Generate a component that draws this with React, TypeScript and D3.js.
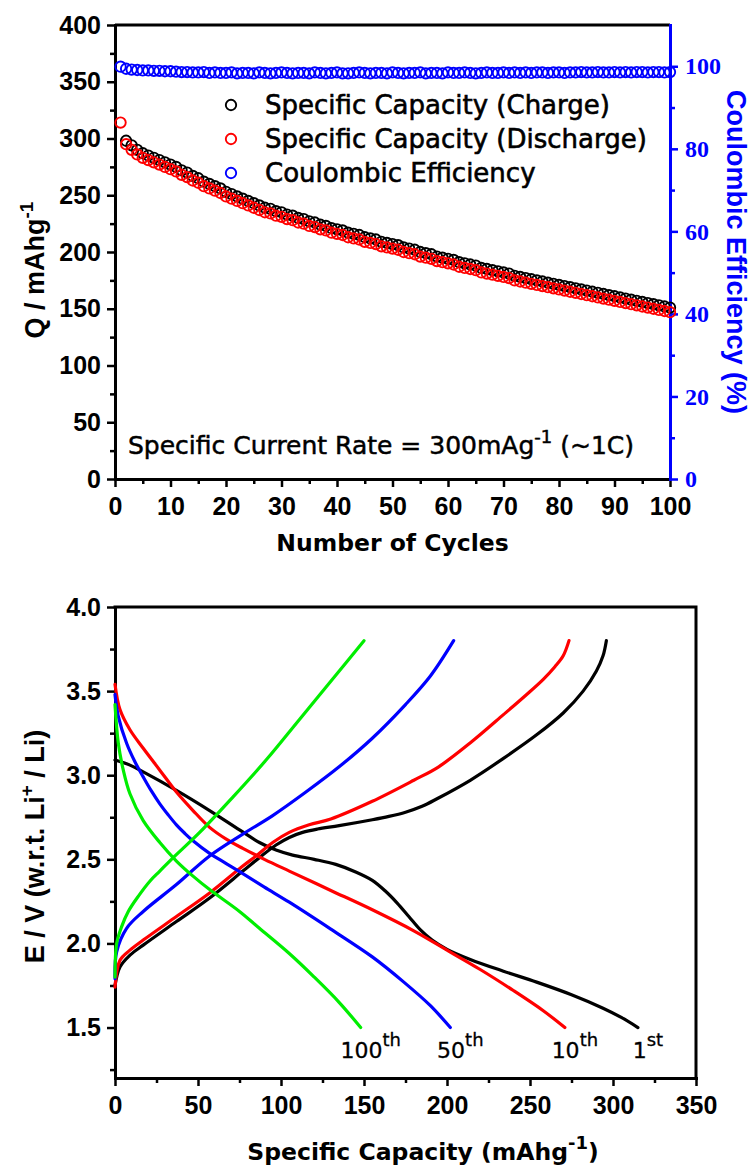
import React, { useRef, useEffect } from "react";
import * as d3 from "d3";

// ---- top panel: cycling data ----
const cycleNumbers = d3.range(1, 101);

const chargeCapacity: (number | null)[] = [
  null, 298, 294, 290, 287, 285, 283, 281, 279, 277,
  275, 272, 270, 267, 265, 262, 260, 258, 256, 253,
  251, 249, 247, 245, 243, 241, 239, 238, 236, 235,
  233, 232, 230, 229, 227, 226, 224, 223, 221, 220,
  219, 217, 216, 215, 213, 212, 211, 209, 208, 207,
  206, 204, 203, 202, 200, 199, 198, 196, 195, 194,
  193, 191, 190, 189, 188, 186, 185, 184, 183, 182,
  181, 179, 178, 177, 176, 175, 174, 173, 172, 171,
  170, 169, 168, 167, 166, 165, 164, 163, 162, 161,
  160, 159, 158, 157, 156, 155, 154, 153, 152, 151,
];

const dischargeCapacity = [
  314, 295, 290, 286, 283, 281, 279, 277, 275, 273,
  271, 268, 266, 263, 261, 258, 256, 254, 252, 249,
  247, 245, 243, 241, 239, 237, 235, 234, 232, 231,
  229, 228, 226, 225, 223, 222, 220, 219, 217, 216,
  215, 213, 212, 211, 209, 208, 207, 205, 204, 203,
  202, 200, 199, 198, 196, 195, 194, 192, 191, 190,
  189, 187, 186, 185, 184, 182, 181, 180, 179, 178,
  177, 175, 174, 173, 172, 171, 170, 169, 168, 167,
  166, 165, 164, 163, 162, 161, 160, 159, 158, 157,
  156, 155, 154, 153, 152, 151, 150, 149, 148, 147,
];

const coulombicEff = [
  99.9, 99.4, 99.2, 99.1, 99.0, 99.0, 98.9, 98.9, 98.8, 98.8,
  98.7, 98.6, 98.6, 98.5, 98.5, 98.6, 98.4, 98.5, 98.4, 98.4,
  98.5, 98.3, 98.4, 98.4, 98.3, 98.5, 98.4, 98.3, 98.4, 98.5,
  98.4, 98.3, 98.4, 98.4, 98.3, 98.5, 98.4, 98.3, 98.4, 98.5,
  98.3, 98.3, 98.4, 98.5, 98.4, 98.3, 98.4, 98.4, 98.3, 98.5,
  98.4, 98.3, 98.4, 98.4, 98.5, 98.3, 98.4, 98.4, 98.3, 98.5,
  98.4, 98.4, 98.5, 98.4, 98.3, 98.4, 98.5, 98.4, 98.4, 98.5,
  98.4, 98.5, 98.4, 98.5, 98.4, 98.5, 98.5, 98.4, 98.5, 98.5,
  98.4, 98.5, 98.5, 98.6, 98.5, 98.5, 98.6, 98.5, 98.5, 98.6,
  98.5, 98.6, 98.5, 98.6, 98.6, 98.5, 98.6, 98.6, 98.5, 98.6,
];

const legendLabels = [
  "Specific Capacity (Charge)",
  "Specific Capacity (Discharge)",
  "Coulombic Efficiency",
];

// ---- bottom panel: voltage profiles [capacity, voltage] ----
const discharge1st = [
  [0, 3.09], [9, 3.06], [17, 3.02], [37, 2.91], [57, 2.79], [75, 2.675], [87, 2.6],
  [97, 2.555], [107, 2.525], [120, 2.5], [133, 2.47], [145, 2.425], [155, 2.375],
  [163, 2.31], [170, 2.24], [177, 2.16], [184, 2.08], [191, 2.02], [200, 1.965],
  [214, 1.905], [234, 1.835], [254, 1.77], [275, 1.695], [294, 1.615], [305, 1.56], [315, 1.5],
];
const charge1st = [
  [0, 1.75], [3, 1.86], [9, 1.93], [17, 1.99], [37, 2.13], [57, 2.27], [77, 2.43],
  [87, 2.51], [97, 2.585], [105, 2.63], [113, 2.66], [122, 2.68], [135, 2.7],
  [155, 2.735], [165, 2.755], [175, 2.78], [185, 2.815], [194, 2.86], [214, 2.97],
  [234, 3.1], [254, 3.24], [270, 3.37], [282, 3.5], [290, 3.62], [294, 3.71], [296, 3.8],
];
const discharge10th = [
  [0, 3.54], [3, 3.39], [9, 3.27], [17, 3.16], [27, 3.03], [37, 2.9], [47, 2.79],
  [57, 2.69], [67, 2.62], [77, 2.565], [90, 2.5], [105, 2.43], [130, 2.315],
  [155, 2.2], [180, 2.075], [200, 1.96], [220, 1.845], [240, 1.72], [258, 1.6], [271, 1.5],
];
const charge10th = [
  [0, 1.74], [3, 1.9], [9, 1.96], [17, 2.02], [37, 2.16], [57, 2.3], [77, 2.46],
  [85, 2.52], [95, 2.6], [105, 2.66], [117, 2.705], [130, 2.74], [155, 2.845],
  [180, 2.97], [195, 3.05], [215, 3.2], [234, 3.36], [248, 3.48], [258, 3.57],
  [265, 3.645], [270, 3.71], [273.5, 3.8],
];
const discharge50th = [
  [0, 3.48], [2, 3.35], [7, 3.19], [12, 3.08], [17, 2.99], [22, 2.905], [27, 2.83],
  [32, 2.765], [37, 2.705], [42, 2.655], [47, 2.61], [57, 2.535], [67, 2.475],
  [77, 2.415], [90, 2.335], [105, 2.245], [130, 2.085], [155, 1.92], [174, 1.77],
  [190, 1.63], [202, 1.5],
];
const charge50th = [
  [0, 1.79], [1, 1.95], [7, 2.09], [17, 2.19], [37, 2.35], [57, 2.52], [77, 2.65],
  [95, 2.76], [115, 2.9], [135, 3.05], [155, 3.22], [175, 3.42], [190, 3.59], [204, 3.8],
];
const discharge100th = [
  [0, 3.42], [2, 3.19], [5, 3.03], [9, 2.89], [17, 2.73], [27, 2.6], [37, 2.49],
  [47, 2.4], [57, 2.32], [75, 2.19], [87, 2.09], [105, 1.94], [120, 1.8],
  [135, 1.65], [148, 1.5],
];
const charge100th = [
  [0, 1.8], [1, 2.0], [4, 2.1], [8, 2.19], [14, 2.28], [21, 2.37], [27, 2.43],
  [34, 2.5], [51, 2.66], [71, 2.87], [91, 3.09], [111, 3.33], [131, 3.57], [150, 3.8],
];

const profileNumbers = ["1", "10", "50", "100"];
const profileSuffixes = ["st", "th", "th", "th"];
const profileColors = ["#000000", "#ff0000", "#0000ff", "#00ee00"];
const profileCharge = [charge1st, charge10th, charge50th, charge100th];
const profileDischarge = [discharge1st, discharge10th, discharge50th, discharge100th];

const SANS = "'Liberation Sans', Arial, sans-serif";
const LUCIDA = "'DejaVu Sans', sans-serif";
const SERIF = "'Liberation Serif', 'Times New Roman', serif";

const styleAxis = (g: any, color: string, family: string, size: number, minor = false) => {
  g.attr("font-family", family).attr("font-size", size).attr("font-weight", "bold");
  if (minor) g.select(".domain").remove();
  else g.select(".domain").attr("stroke", color).attr("stroke-width", 3).attr("stroke-linecap", "square");
  g.selectAll(".tick line").attr("stroke", color).attr("stroke-width", 2.5);
  g.selectAll(".tick text").attr("fill", color);
};

export default function App() {
  const chartRef = useRef<SVGSVGElement>(null);

  useEffect(() => {
    const svg = d3.select(chartRef.current);
    svg.selectAll("*").remove();

    // ================= TOP PANEL =================
    const xC = d3.scaleLinear().domain([0, 100]).range([115, 670]);
    const yQ = d3.scaleLinear().domain([0, 400]).range([479, 25]);
    const yCE = d3.scaleLinear().domain([0, 110]).range([479, 25]);

    const top = svg.append("g");

    top.append("line")
      .attr("x1", xC(0)).attr("x2", xC(100))
      .attr("y1", yQ(400)).attr("y2", yQ(400))
      .attr("stroke", "#000").attr("stroke-width", 3);

    // minor ticks
    top.append("g").attr("transform", `translate(${xC(0)},0)`)
      .call(d3.axisLeft(yQ).tickValues(d3.range(25, 400, 50)).tickSize(5).tickFormat(() => ""))
      .call((g) => styleAxis(g, "#000", SANS, 25, true));
    top.append("g").attr("transform", `translate(0,${yQ(0)})`)
      .call(d3.axisBottom(xC).tickValues(d3.range(5, 100, 10)).tickSize(5).tickFormat(() => ""))
      .call((g) => styleAxis(g, "#000", SANS, 25, true));

    top.append("g").attr("transform", `translate(${xC(0)},0)`)
      .call(d3.axisLeft(yQ).tickValues(d3.range(0, 401, 50)).tickSize(8).tickSizeOuter(0).tickPadding(6))
      .call((g) => styleAxis(g, "#000", SANS, 25));
    top.append("g").attr("transform", `translate(0,${yQ(0)})`)
      .call(d3.axisBottom(xC).tickValues(d3.range(0, 101, 10)).tickSize(8).tickSizeOuter(0).tickPadding(10))
      .call((g) => styleAxis(g, "#000", SANS, 25));

    // right axis (blue)
    top.append("g").attr("transform", `translate(${xC(100)},0)`)
      .call(d3.axisRight(yCE).tickValues(d3.range(10, 100, 20)).tickSize(5).tickFormat(() => ""))
      .call((g) => styleAxis(g, "#0000ff", SERIF, 24, true));
    top.append("g").attr("transform", `translate(${xC(100)},0)`)
      .call(d3.axisRight(yCE).tickValues(d3.range(0, 101, 20)).tickSize(8).tickSizeOuter(0).tickPadding(7))
      .call((g) => styleAxis(g, "#0000ff", SERIF, 24));

    // markers
    const drawMarkers = (vals: (number | null)[], y: any, color: string) => {
      top.append("g")
        .selectAll("circle")
        .data(cycleNumbers.map((c, i) => ({ c, v: vals[i] })).filter((d) => d.v != null))
        .enter()
        .append("circle")
        .attr("cx", (d) => xC(d.c))
        .attr("cy", (d) => y(d.v))
        .attr("r", 5.2)
        .attr("fill", "none")
        .attr("stroke", color)
        .attr("stroke-width", 1.9);
    };
    drawMarkers(chargeCapacity, yQ, "#000");
    drawMarkers(dischargeCapacity, yQ, "#ff0000");
    drawMarkers(coulombicEff, yCE, "#0000ff");

    // legend
    const legendColors = ["#000", "#ff0000", "#0000ff"];
    legendLabels.forEach((label, i) => {
      const ly = 105 + i * 34;
      top.append("circle")
        .attr("cx", 231).attr("cy", ly).attr("r", 5.2)
        .attr("fill", "none").attr("stroke", legendColors[i]).attr("stroke-width", 1.9);
      top.append("text")
        .attr("x", 265).attr("y", ly).attr("dy", "0.36em")
        .attr("font-family", LUCIDA).attr("font-size", 26)
        .attr("fill", "#000").attr("stroke", "#000").attr("stroke-width", 0.6)
        .text(label);
    });

    // annotation
    const ann = top.append("text")
      .attr("x", 128).attr("y", 454)
      .attr("font-family", LUCIDA).attr("font-size", 25)
      .attr("fill", "#000").attr("stroke", "#000").attr("stroke-width", 0.5);
    ann.append("tspan").text("Specific Current Rate = 300mAg");
    ann.append("tspan").attr("dy", -11).attr("font-size", 18).text("-1");
    ann.append("tspan").attr("dy", 11).text(" (~1C)");

    // axis titles
    const qT = top.append("text")
      .attr("transform", `translate(44,${(yQ(0) + yQ(400)) / 2 + 18}) rotate(-90)`)
      .attr("text-anchor", "middle")
      .attr("font-family", SANS).attr("font-size", 27).attr("font-weight", "bold");
    qT.append("tspan").text("Q / mAhg");
    qT.append("tspan").attr("dy", -11).attr("font-size", 19).text("-1");

    top.append("text")
      .attr("x", (xC(0) + xC(100)) / 2).attr("y", 551)
      .attr("text-anchor", "middle")
      .attr("font-family", LUCIDA).attr("font-size", 23.5).attr("font-weight", "bold")
      .text("Number of Cycles");

    top.append("text")
      .attr("transform", `translate(727,${(yCE(0) + yCE(110)) / 2}) rotate(90)`)
      .attr("text-anchor", "middle")
      .attr("font-family", SANS).attr("font-size", 27).attr("font-weight", "bold")
      .attr("fill", "#0000ff")
      .text("Coulombic Efficiency (%)");

    // ================= BOTTOM PANEL =================
    const xS = d3.scaleLinear().domain([0, 350]).range([115, 696]);
    const yE = d3.scaleLinear().domain([1.2, 4.0]).range([1078, 607]);

    const bot = svg.append("g");

    bot.append("path")
      .attr("d", `M${xS(0)},${yE(4)}H${xS(350)}V${yE(1.2)}`)
      .attr("fill", "none").attr("stroke", "#000").attr("stroke-width", 3)
      .attr("stroke-linecap", "square");

    bot.append("g").attr("transform", `translate(${xS(0)},0)`)
      .call(d3.axisLeft(yE).tickValues(d3.range(1.25, 4, 0.5)).tickSize(5).tickFormat(() => ""))
      .call((g) => styleAxis(g, "#000", SANS, 25, true));
    bot.append("g").attr("transform", `translate(0,${yE(1.2)})`)
      .call(d3.axisBottom(xS).tickValues(d3.range(25, 350, 50)).tickSize(5).tickFormat(() => ""))
      .call((g) => styleAxis(g, "#000", SANS, 25, true));

    bot.append("g").attr("transform", `translate(${xS(0)},0)`)
      .call(d3.axisLeft(yE).tickValues([1.5, 2.0, 2.5, 3.0, 3.5, 4.0]).tickSize(8).tickSizeOuter(0).tickPadding(6).tickFormat(d3.format(".1f")))
      .call((g) => styleAxis(g, "#000", SANS, 25));
    bot.append("g").attr("transform", `translate(0,${yE(1.2)})`)
      .call(d3.axisBottom(xS).tickValues(d3.range(0, 351, 50)).tickSize(8).tickSizeOuter(0).tickPadding(10))
      .call((g) => styleAxis(g, "#000", SANS, 25));

    const line = d3.line<number[]>()
      .x((d) => xS(d[0]))
      .y((d) => yE(d[1]))
      .curve(d3.curveCatmullRom.alpha(0.5));

    profileNumbers.forEach((num, i) => {
      [profileCharge[i], profileDischarge[i]].forEach((data) => {
        bot.append("path")
          .datum(data)
          .attr("d", line)
          .attr("fill", "none")
          .attr("stroke", profileColors[i])
          .attr("stroke-width", 3.2)
          .attr("stroke-linecap", "round")
          .attr("stroke-linejoin", "round");
      });
      const end = profileDischarge[i][profileDischarge[i].length - 1];
      const lbl = bot.append("text")
        .attr("x", xS(end[0]) + 10).attr("y", yE(1.5) + 30)
        .attr("text-anchor", "middle")
        .attr("font-family", LUCIDA).attr("font-size", 22)
        .attr("fill", "#000").attr("stroke", "#000").attr("stroke-width", 0.3);
      lbl.append("tspan").text(num);
      lbl.append("tspan").attr("dy", -12).attr("font-size", 18).text(profileSuffixes[i]);
    });

    const eT = bot.append("text")
      .attr("transform", `translate(44,${(yE(1.2) + yE(4)) / 2 + 4}) rotate(-90)`)
      .attr("text-anchor", "middle")
      .attr("font-family", SANS).attr("font-size", 27).attr("font-weight", "bold");
    eT.append("tspan").text("E / V (w.r.t. Li");
    eT.append("tspan").attr("dy", -11).attr("font-size", 19).text("+");
    eT.append("tspan").attr("dy", 11).text(" / Li)");

    const sT = bot.append("text")
      .attr("x", 423).attr("y", 1160)
      .attr("text-anchor", "middle")
      .attr("font-family", LUCIDA).attr("font-size", 23.5).attr("font-weight", "bold");
    sT.append("tspan").text("Specific Capacity (mAhg");
    sT.append("tspan").attr("dy", -11).attr("font-size", 18).text("-1");
    sT.append("tspan").attr("dy", 11).text(")");
  }, []);

  return (
    <svg
      ref={chartRef}
      width={751}
      height={1167}
      style={{ position: "absolute", left: 0, top: 0, background: "#fff" }}
    />
  );
}
